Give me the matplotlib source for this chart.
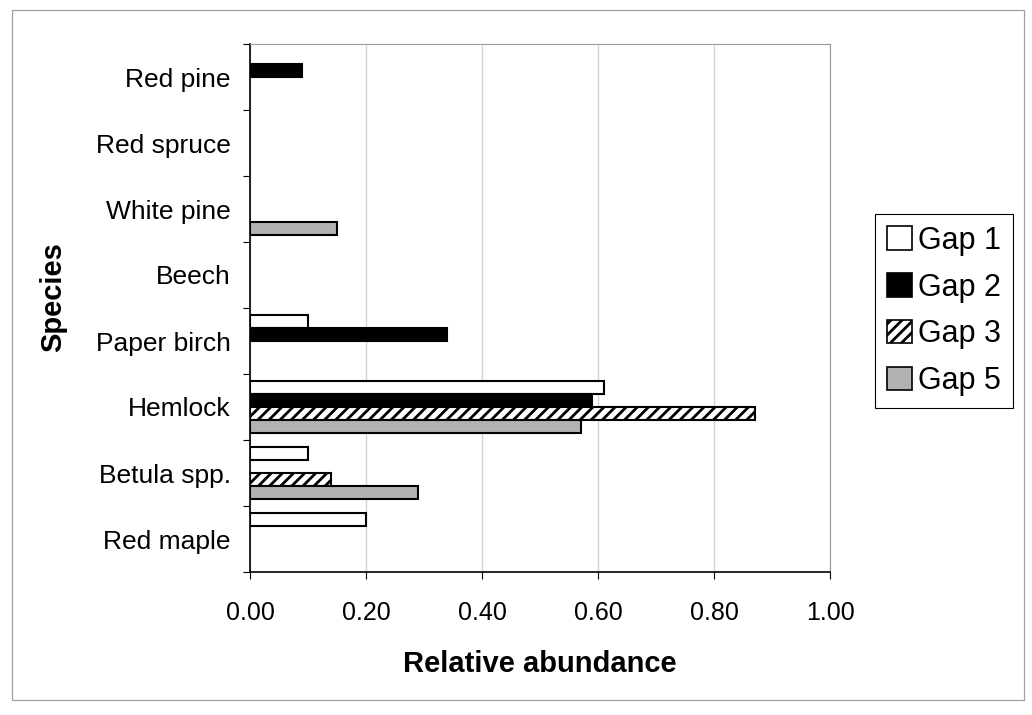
import matplotlib.pyplot as plt
import matplotlib.patches as mpatches
from matplotlib.ticker import FixedLocator, FormatStrFormatter
import numpy as np

plt.rcParams['font.family'] = ['Liberation Sans', 'DejaVu Sans']
plt.rcParams['hatch.linewidth'] = 2.0

# species from bottom to top of the chart
species = ['Red maple', 'Betula spp.', 'Hemlock', 'Paper birch',
           'Beech', 'White pine', 'Red spruce', 'Red pine']

gap1 = [0.20, 0.10, 0.61, 0.10, 0.0, 0.0, 0.0, 0.0]
gap2 = [0.0, 0.0, 0.59, 0.34, 0.0, 0.0, 0.0, 0.09]
gap3 = [0.0, 0.14, 0.87, 0.0, 0.0, 0.0, 0.0, 0.0]
gap5 = [0.0, 0.29, 0.57, 0.0, 0.0, 0.15, 0.0, 0.0]

series = [
    ('Gap 1', gap1, dict(color='white', hatch=None)),
    ('Gap 2', gap2, dict(color='black', hatch=None)),
    ('Gap 3', gap3, dict(color='white', hatch='///')),
    ('Gap 5', gap5, dict(color='#b2b2b2', hatch=None)),
]

fig = plt.figure(figsize=(10.32, 7.15), dpi=100)
ax = fig.add_axes([250 / 1032, 1 - 572 / 715, 580 / 1032, 528 / 715])

y = np.arange(len(species))
h = 0.2
offsets = [0.3, 0.1, -0.1, -0.3]

handles = []
for (name, vals, st), off in zip(series, offsets):
    vals = np.array(vals)
    mask = vals > 0
    ax.barh(y[mask] + off, vals[mask], height=h, color=st['color'],
            edgecolor='black', linewidth=1.5, hatch=st['hatch'], zorder=3)
    handles.append(mpatches.Patch(facecolor=st['color'], edgecolor='black',
                                  linewidth=1.2, hatch=st['hatch'], label=name))

ax.set_xlim(0, 1.0)
ax.set_ylim(-0.5, len(species) - 0.5)
ax.set_xticks(np.arange(0, 1.01, 0.2))
ax.xaxis.set_major_formatter(FormatStrFormatter('%.2f'))
ax.set_yticks(y)
ax.set_yticklabels(species, fontsize=19)
ax.yaxis.set_minor_locator(FixedLocator(np.arange(-0.5, len(species), 1.0)))
ax.tick_params(axis='y', which='major', length=0, pad=14)
ax.tick_params(axis='y', which='minor', length=5, direction='out', width=0.8)
ax.tick_params(axis='x', labelsize=18, length=5, direction='out', width=0.8, pad=16)

ax.grid(axis='x', color='#d4d4d4', linewidth=1.0, zorder=0)
ax.set_axisbelow(True)
for side in ['top', 'right']:
    ax.spines[side].set_color('#9a9a9a')
    ax.spines[side].set_linewidth(0.8)
for side in ['left', 'bottom']:
    ax.spines[side].set_color('black')
    ax.spines[side].set_linewidth(1.2)

fig.text(53 / 1032, 1 - 297 / 715, 'Species', rotation=90, ha='center',
         va='center', fontsize=21, fontweight='bold')
fig.text(540 / 1032, 1 - 664 / 715, 'Relative abundance', ha='center',
         va='center', fontsize=21, fontweight='bold')

leg = fig.legend(handles=handles, loc='center left',
                 bbox_to_anchor=(875 / 1032, 1 - 311 / 715), fontsize=22,
                 handlelength=0.8, handleheight=0.8, handletextpad=0.2,
                 labelspacing=0.55, borderpad=0.4, fancybox=False,
                 framealpha=1.0, edgecolor='black', borderaxespad=0)
leg.get_frame().set_linewidth(0.8)

# outer chart border
fig.patches.append(mpatches.Rectangle((12 / 1032, 15 / 715), 1012 / 1032, 690 / 715,
                                      transform=fig.transFigure, fill=False,
                                      edgecolor='#a0a0a0', linewidth=0.9))

plt.savefig('out.png', dpi=100)
